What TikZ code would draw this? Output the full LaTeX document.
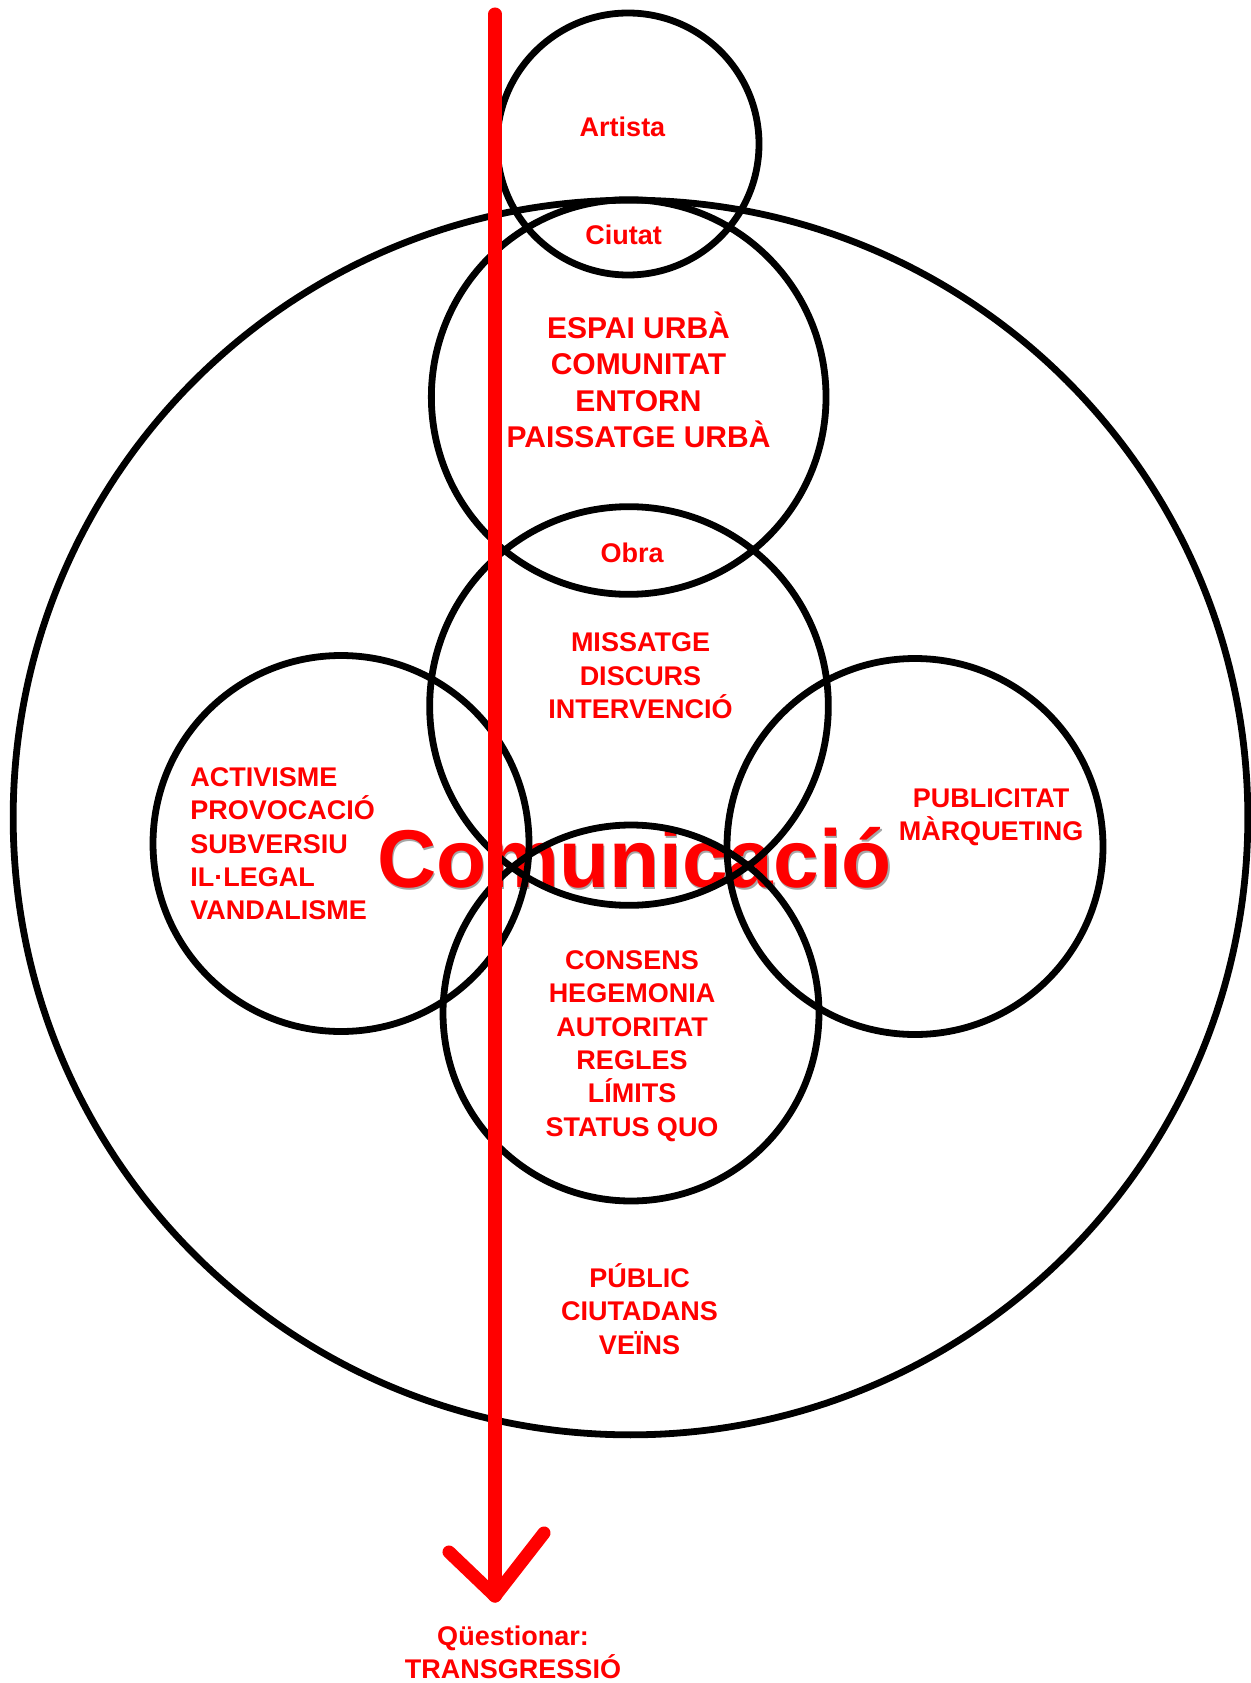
\documentclass[tikz,border=0pt]{standalone}
\usepackage{fontspec}
\setmainfont{Liberation Sans}
\begin{document}
\begin{tikzpicture}[x=0.75pt,y=-0.75pt,
  ring/.style={circle,draw=black,line width=5.1pt,inner sep=0pt},
  lbl/.style={text=red,font=\fontsize{20.25pt}{25pt}\selectfont\bfseries,align=center,inner sep=0pt},
  biglbl/.style={text=red,font=\fontsize{22.5pt}{27.4pt}\selectfont\bfseries,align=center,inner sep=0pt},
  redline/.style={draw=red,line width=9.8pt,line cap=round,line join=round}]
\useasboundingbox (0,0) rectangle (1250,1683);
% shadow + main title (under circles)
\node[text=black!35,font=\fontsize{61.5pt}{70pt}\selectfont\bfseries,inner sep=0pt] (comshadow) at (636,859.5) {Comunicació};
\node[text=red,font=\fontsize{61.5pt}{70pt}\selectfont\bfseries,inner sep=0pt] (com) at (634.5,858) {Comunicació};
% circles
\node[ring,minimum size=926pt] (big) at (630.5,817.5) {};
\node[ring,minimum size=196.5pt] (artc) at (628,144) {};
\node[ring,minimum size=296pt] (espc) at (628.7,397) {};
\node[ring,minimum size=299pt] (obrc) at (629,706) {};
\node[ring,minimum size=282pt] (conc) at (631,1013) {};
\node[ring,minimum size=282pt] (leftc) at (341,843.5) {};
\node[ring,minimum size=282pt] (rightc) at (915,846.5) {};
% red arrow
\coordinate (top) at (495,14);
\coordinate (tip) at (495,1596);
\coordinate (la) at (449,1552);
\coordinate (ra) at (544,1533);
\draw[redline] (top) -- (tip);
\draw[redline] (la) -- (tip) -- (ra);
% labels
\node[lbl] (artista) at (622.5,127) {Artista};
\node[lbl] (ciutat) at (623.5,235) {Ciutat};
\node[biglbl] (espai) at (638.5,380) {ESPAI URBÀ\\COMUNITAT\\ENTORN\\PAISSATGE URBÀ};
\node[lbl] (obra) at (632,553) {Obra};
\node[lbl] (missatge) at (640.5,676) {MISSATGE\\DISCURS\\INTERVENCIÓ};
\node[lbl,align=left,anchor=west] (activ) at (190,844) {ACTIVISME\\PROVOCACIÓ\\SUBVERSIU\\IL·LEGAL\\VANDALISME};
\node[lbl] (public) at (991,817) {PUBLICITAT\\MÀRQUETING};
\node[lbl] (consens) at (632,1046) {CONSENS\\HEGEMONIA\\AUTORITAT\\REGLES\\LÍMITS\\STATUS QUO};
\node[lbl] (pub) at (639.5,1309) {PÚBLIC\\CIUTADANS\\VEÏNS};
\node[lbl] (quest) at (513,1652) {Qüestionar:\\TRANSGRESSIÓ};
\end{tikzpicture}
\end{document}
